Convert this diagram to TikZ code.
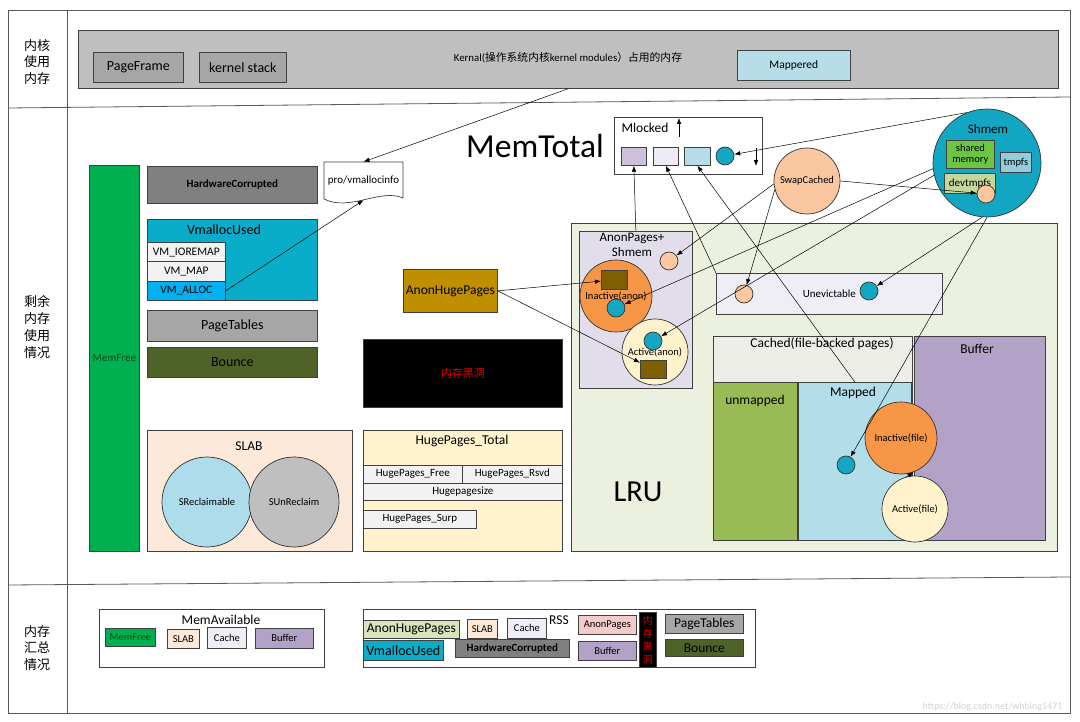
\documentclass[tikz,border=0pt]{standalone}
\usepackage{fontspec}
\setmainfont{Carlito}
\newfontfamily\cjk{Noto Sans CJK SC}
\usetikzlibrary{arrows.meta}
\definecolor{kgray}{HTML}{BFBFBF}
\definecolor{dgray}{HTML}{A6A6A6}
\definecolor{hwgray}{HTML}{808080}
\definecolor{memgreen}{HTML}{00B050}
\definecolor{memtext}{HTML}{004D1A}
\definecolor{vmteal}{HTML}{0AADC9}
\definecolor{vmblue}{HTML}{00B0F0}
\definecolor{lgray}{HTML}{F2F2F2}
\definecolor{bounce}{HTML}{4F6228}
\definecolor{anonhuge}{HTML}{BF8F00}
\definecolor{slabfill}{HTML}{FDE9D9}
\definecolor{sreclaim}{HTML}{ADDDEA}
\definecolor{hugefill}{HTML}{FFF2CC}
\definecolor{mlpurple}{HTML}{CCC0DA}
\definecolor{mllav}{HTML}{EEEBF4}
\definecolor{mapblue}{HTML}{B7DEE8}
\definecolor{peach}{HTML}{FAC7A0}
\definecolor{shteal}{HTML}{12A6C3}
\definecolor{shgreen}{HTML}{6CC644}
\definecolor{tmpfsblue}{HTML}{92CDDC}
\definecolor{devt}{HTML}{C4D79B}
\definecolor{lrufill}{HTML}{EBF1DE}
\definecolor{apfill}{HTML}{E2DDEB}
\definecolor{uefill}{HTML}{EFEDF5}
\definecolor{cachedfill}{HTML}{EDEDE7}
\definecolor{unmapped}{HTML}{99BB55}
\definecolor{mappedfill}{HTML}{B2DEEA}
\definecolor{bufpurple}{HTML}{B3A2C7}
\definecolor{orangefill}{HTML}{F79646}
\definecolor{cream}{HTML}{FFF2CC}
\definecolor{brownfill}{HTML}{7F6000}
\definecolor{dotteal}{HTML}{14A7C4}
\definecolor{ahpgreen}{HTML}{D8E4BC}
\definecolor{anonpink}{HTML}{F4CACA}
\definecolor{holered}{HTML}{E00000}
\begin{document}
\begin{tikzpicture}[x=1pt, y=-1pt,
        box/.style={draw=black!75, line width=0.7pt, inner sep=0pt, anchor=north west, align=center},
        disc/.style={circle, draw=black!80, line width=0.7pt, inner sep=0pt, align=center},
        smalldot/.style={disc, minimum size=18},
        fs/.style={font=\linespread{1.1}\fontsize{#1}{#1}\selectfont, align=center},
        zh/.style={font=\cjk\linespread{1.3}\fontsize{#1}{#1}\selectfont, align=center},
        arr/.style={-{Latex[length=6pt, width=4.5pt]}, line width=0.5pt},
        frame/.style={draw=black!65, line width=0.8pt}
    ]
    \useasboundingbox (0,0) rectangle (1080,722);

    % frame and sections
    \draw[frame] (8,10) rectangle (1070,713);
    \draw[frame] (67,10) -- (67,713);
    \draw[frame] (8,108) -- (1070,97);
    \draw[frame] (8,585) -- (1070,577);
    \node[zh=13] (lab1) at (37,62) {内核\\使用\\内存};
    \node[zh=13] (lab2) at (37,327) {剩余\\内存\\使用\\情况};
    \node[zh=13] (lab3) at (37,648) {内存\\汇总\\情况};

    % kernel part
    \node[box, fill=kgray, minimum width=980, minimum height=58] (kernel) at (78,30) {};
    \node[box, fill=dgray, minimum width=90, minimum height=30, fs=14] (pageframe) at (93,52) {PageFrame};
    \node[box, fill=dgray, minimum width=87, minimum height=30, fs=14] (kstack) at (199,52) {kernel stack};
    \node[fs=10.8] (ktext) at (568,58) {Kernal({\cjk 操作系统内核}kernel modules{\cjk ）占用的内存}};
    \node[box, fill=mapblue, minimum width=113, minimum height=30, fs=11.5] (mappered) at (737,50) {Mappered};

    % left column
    \node[fs=33.5] (memtotal) at (535,146) {MemTotal};
    \node[box, fill=memgreen, minimum width=50, minimum height=386, fs=11, text=memtext] (memfree) at (89,165) {MemFree};
    \node[box, fill=hwgray, minimum width=170, minimum height=37, fs=11] (hwc) at (147,166) {\bfseries HardwareCorrupted};
    \node[box, fill=vmteal, minimum width=170, minimum height=81] (vmused) at (147,219) {};
    \node[fs=14] (vmtitle) at (224,230) {VmallocUsed};
    \node[box, fill=lgray, minimum width=78, minimum height=19.5, fs=11.5] (vmio) at (147,242) {VM\_IOREMAP};
    \node[box, fill=lgray, minimum width=78, minimum height=19.5, fs=11.5] (vmmap) at (147,261.5) {VM\_MAP};
    \node[box, fill=vmblue, minimum width=78, minimum height=19, fs=11.5] (vmalloc) at (147,281) {VM\_ALLOC};
    \node[box, fill=dgray, minimum width=170, minimum height=31, fs=14] (pagetables) at (147,310) {PageTables};
    \node[box, fill=bounce, minimum width=170, minimum height=30, fs=14] (bouncebox) at (147,347) {Bounce};

    % pro/vmallocinfo
    \draw[draw=black!75, line width=0.7pt, fill=white] (324,162) -- (403,162) -- (403,198)
        .. controls (380,188) and (350,212) .. (324,199) -- cycle;
    \node[fs=11, minimum width=79, minimum height=38, inner sep=0pt] (vmi) at (363.5,181) {pro/vmallocinfo};

    \node[box, fill=anonhuge, minimum width=94, minimum height=43, fs=13.5] (anonhuge) at (403,269) {AnonHugePages};
    \node[box, fill=black, minimum width=199, minimum height=68, zh=11, text=holered] (hole) at (363,339) {内存黑洞};

    % SLAB
    \node[box, fill=slabfill, minimum width=205, minimum height=121] (slab) at (147,430) {};
    \node[fs=13.5] (slabtitle) at (249,446) {SLAB};
    \node[disc, fill=sreclaim, minimum size=90, fs=10.5] (srecl) at (207,502) {SReclaimable};
    \node[disc, fill=kgray, minimum size=90, fs=10.5] (sunrecl) at (294,502) {SUnReclaim};

    % HugePages
    \node[box, fill=hugefill, minimum width=199, minimum height=121] (huge) at (363,430) {};
    \node[fs=13.5] (hugetitle) at (462,441) {HugePages\_Total};
    \node[box, fill=lgray, minimum width=99, minimum height=17.5, fs=11] (hfree) at (363,465) {HugePages\_Free};
    \node[box, fill=lgray, minimum width=100, minimum height=17.5, fs=11] (hrsvd) at (462,465) {HugePages\_Rsvd};
    \node[box, fill=lgray, minimum width=199, minimum height=17, fs=11] (hsize) at (363,482.5) {Hugepagesize};
    \node[box, fill=lgray, minimum width=113, minimum height=18, fs=11] (hsurp) at (363,510) {HugePages\_Surp};

    % Mlocked
    \node[box, fill=white, minimum width=148, minimum height=57] (mlocked) at (614,117) {};
    \node[fs=13.5] (mltitle) at (645,128) {Mlocked};
    \node[box, fill=mlpurple, minimum width=25, minimum height=18] (mlsq1) at (621,147) {};
    \node[box, fill=mllav, minimum width=25, minimum height=18] (mlsq2) at (653,147) {};
    \node[box, fill=mapblue, minimum width=26, minimum height=18] (mlsq3) at (684,147) {};
    \node[smalldot, fill=dotteal] (mldot) at (725,156) {};
    \coordinate (upa) at (679,137);
    \coordinate (upb) at (679,118);
    \coordinate (dna) at (756,148);
    \coordinate (dnb) at (756,166);
    \draw[arr] (upa) -- (upb);
    \draw[arr] (dna) -- (dnb);

    % SwapCached and Shmem
    \node[disc, fill=peach, minimum size=66, fs=10.5] (swap) at (807,181) {SwapCached};
    \node[disc, fill=shteal, minimum size=108] (shmem) at (987,163) {};
    \node[fs=13] (shtitle) at (988,129) {Shmem};
    \node[box, fill=shgreen, minimum width=48, minimum height=28, fs=10.5] (shared) at (946,140) {shared\\memory};
    \node[box, fill=tmpfsblue, minimum width=31, minimum height=20, fs=10.5] (tmpfs) at (1000,152) {tmpfs};
    \node[box, fill=devt, minimum width=51, minimum height=20, fs=11] (devtmpfs) at (944,173) {devtmpfs};
    \node[smalldot, fill=peach] (shdot) at (986,194) {};

    % LRU
    \node[box, fill=lrufill, minimum width=486, minimum height=328] (lru) at (571,223) {};
    \node[fs=30.5] (lrutitle) at (638,492) {LRU};
    \node[box, fill=apfill, minimum width=113, minimum height=157] (anonp) at (579,231) {};
    \node[fs=13] (aptitle) at (632,245) {AnonPages+\\Shmem};
    \node[smalldot, fill=peach] (apdot) at (669,261) {};
    \node[disc, fill=orangefill, minimum size=72, fs=10.5] (ianon) at (616,296) {Inactive(anon)};
    \node[box, fill=brownfill, minimum width=26, minimum height=19] (iabox) at (601,270) {};
    \node[smalldot, fill=dotteal] (iadot) at (616,308) {};
    \node[disc, fill=cream, minimum size=66, fs=10.5] (aanon) at (655,352) {Active(anon)};
    \node[smalldot, fill=dotteal] (aadot) at (653,341) {};
    \node[box, fill=brownfill, minimum width=26, minimum height=18] (aabox) at (640,360) {};

    \node[box, fill=uefill, minimum width=226, minimum height=41, fs=11] (unev) at (716,273) {Unevictable};
    \node[smalldot, fill=peach] (uedot1) at (744,294) {};
    \node[smalldot, fill=dotteal] (uedot2) at (869,291) {};

    \node[box, fill=cachedfill, minimum width=199, minimum height=204] (cached) at (713,336) {};
    \node[fs=13.5] (cachedtitle) at (822,344) {Cached(file-backed pages)};
    \node[box, fill=unmapped, minimum width=84, minimum height=158] (unmap) at (713,382) {};
    \node[fs=13.5] (unmaptitle) at (755,401) {unmapped};
    \node[box, fill=mappedfill, minimum width=113, minimum height=158] (mapped) at (798,382) {};
    \node[fs=13.5] (mappedtitle) at (853,393) {Mapped};
    \node[smalldot, fill=dotteal] (mpdot) at (846,465) {};
    \node[box, fill=bufpurple, minimum width=131, minimum height=204] (buffer) at (914,336) {};
    \node[fs=13.5] (buftitle) at (977,349) {Buffer};
    \node[disc, fill=orangefill, minimum size=72, fs=10.5] (ifile) at (901,438) {Inactive(file)};
    \node[disc, fill=cream, minimum size=66, fs=10.5] (afile) at (915,509) {Active(file)};

    % connectors
    \draw[arr] (kernel.south) -- (vmi.north);
    \draw[arr] (vmalloc.east) -- (vmi.south);
    \draw[arr] (anonhuge.east) -- (iabox);
    \draw[arr] (anonhuge.east) -- (aabox);
    \draw[arr] (anonp.north) -- (mlsq1.south);
    \draw[arr] (unev.north west) -- (mlsq2.south);
    \draw[arr] (mapped.north) -- (mlsq3.south);
    \draw[arr] (shmem.112) -- (mldot);
    \draw[arr] (swap.185) -- (apdot);
    \draw[arr] (swap.195) -- (uedot1);
    \draw[arr] (swap.east) -- (shdot);
    \draw[arr] (shmem.186) -- (iadot);
    \draw[arr] (shmem.193) -- (aadot);
    \draw[arr] (shmem.-95) -- (uedot2);
    \draw[arr] (shmem.-90) -- (mpdot);
    \draw[arr] (afile.105) -- (ifile.-70);

    % summary: MemAvailable
    \node[box, fill=white, minimum width=225, minimum height=58] (memavail) at (99,609) {};
    \node[fs=13.5] (matitle) at (221,620) {MemAvailable};
    \node[box, fill=memgreen, minimum width=50, minimum height=18, fs=10.5, text=memtext] (lmemfree) at (105,628) {MemFree};
    \node[box, fill=slabfill, minimum width=32, minimum height=19, fs=10.5] (lslab) at (167,629) {SLAB};
    \node[box, fill=uefill, minimum width=39, minimum height=21, fs=10.5] (lcache) at (207,627) {Cache};
    \node[box, fill=bufpurple, minimum width=58, minimum height=20, fs=10.5] (lbuffer) at (255,628) {Buffer};

    % summary: RSS
    \node[box, fill=white, minimum width=392, minimum height=58] (rss) at (363,609) {};
    \node[box, fill=ahpgreen, minimum width=96, minimum height=18, fs=13.5] (lahp) at (363,620) {AnonHugePages};
    \node[box, fill=slabfill, minimum width=30, minimum height=19, fs=10.5] (lslab2) at (467,619) {SLAB};
    \node[box, fill=uefill, minimum width=39, minimum height=20, fs=10.5] (lcache2) at (507,618) {Cache};
    \node[fs=13.5] (rsstitle) at (559,620) {RSS};
    \node[box, fill=anonpink, minimum width=58, minimum height=19, fs=10.5] (lanon) at (578,615) {AnonPages};
    \node[box, fill=black, minimum width=17, minimum height=55, zh=10, text=holered] (lhole) at (639,612) {内\\存\\黑\\洞};
    \node[box, fill=dgray, minimum width=78, minimum height=19, fs=13.5] (lpt) at (665,614) {PageTables};
    \node[box, fill=bounce, minimum width=78, minimum height=17, fs=13.5] (lbounce) at (665,639) {Bounce};
    \node[box, fill=vmteal, minimum width=80, minimum height=20, fs=14] (lvm) at (363,640) {VmallocUsed};
    \node[box, fill=hwgray, minimum width=114, minimum height=18, fs=11] (lhwc) at (455,639) {\bfseries HardwareCorrupted};
    \node[box, fill=bufpurple, minimum width=58, minimum height=19, fs=10.5] (lbuf2) at (578,641) {Buffer};

    \node[fs=10, text=black!18, anchor=east] (mark) at (1066,707) {https://blog.csdn.net/whbing1471};
\end{tikzpicture}
\end{document}
